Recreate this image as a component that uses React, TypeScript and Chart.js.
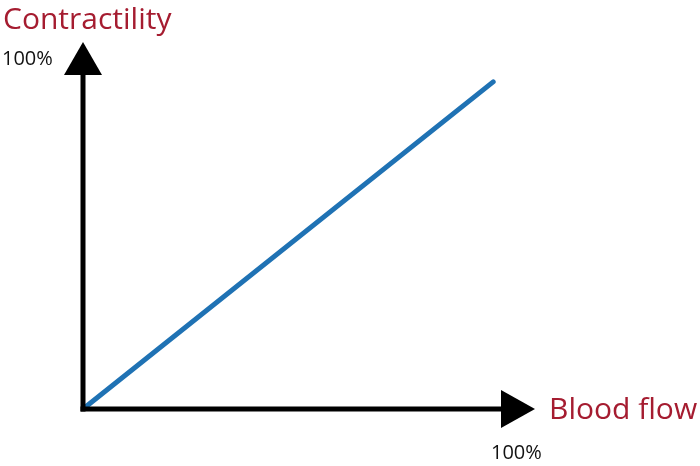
import React, { useEffect, useRef } from "react";
import { Chart, registerables } from "chart.js";

Chart.register(...registerables);

const bloodFlow: number[] = [0, 100];
const contractility: number[] = [0, 100];
const xAxisTitle = "Blood flow";
const yAxisTitle = "Contractility";
const xMaxLabel = "100%";
const yMaxLabel = "100%";

const axesPlugin = {
  id: "arrowAxes",
  afterDraw(chart: any) {
    const ctx = chart.ctx as CanvasRenderingContext2D;
    const xs = chart.scales.x;
    const ys = chart.scales.y;
    const ox = xs.getPixelForValue(0);
    const oy = ys.getPixelForValue(0);
    const right = xs.getPixelForValue(xs.max);
    const top = ys.getPixelForValue(ys.max);
    ctx.save();
    ctx.fillStyle = "#000";
    ctx.strokeStyle = "#000";
    ctx.lineWidth = 5;
    ctx.lineCap = "butt";
    // vertical axis
    ctx.beginPath();
    ctx.moveTo(ox, oy + 2.5);
    ctx.lineTo(ox, top + 33);
    ctx.stroke();
    ctx.beginPath();
    ctx.moveTo(ox, top);
    ctx.lineTo(ox - 19, top + 33);
    ctx.lineTo(ox + 19, top + 33);
    ctx.closePath();
    ctx.fill();
    // horizontal axis
    ctx.beginPath();
    ctx.moveTo(ox - 2.5, oy);
    ctx.lineTo(right - 34, oy);
    ctx.stroke();
    ctx.beginPath();
    ctx.moveTo(right, oy);
    ctx.lineTo(right - 34, oy - 19);
    ctx.lineTo(right - 34, oy + 19);
    ctx.closePath();
    ctx.fill();
    // texts
    ctx.textBaseline = "alphabetic";
    ctx.textAlign = "left";
    ctx.fillStyle = "#a51c30";
    ctx.font = '30px "Open Sans"';
    ctx.fillText(yAxisTitle, 3, 29);
    ctx.fillText(xAxisTitle, right + 14, oy + 10);
    ctx.fillStyle = "#111";
    ctx.font = '20px "Open Sans"';
    ctx.fillText(yMaxLabel, 2, 65);
    ctx.fillText(xMaxLabel, right - 44, oy + 50);
    ctx.restore();
  },
};

export default function App() {
  const ref = useRef<HTMLCanvasElement | null>(null);
  useEffect(() => {
    document.body.style.margin = "0";
    const chart = new Chart(ref.current as HTMLCanvasElement, {
      type: "scatter",
      data: {
        datasets: [
          {
            data: bloodFlow.map((x, i) => ({ x, y: contractility[i] })),
            showLine: true,
            borderColor: "#1f72b4",
            borderWidth: 5,
            pointRadius: 0,
            borderCapStyle: "round",
          },
        ],
      },
      options: {
        animation: false,
        responsive: false,
        events: [],
        layout: { padding: { left: 83, right: 165, top: 42, bottom: 57 } },
        plugins: { legend: { display: false }, tooltip: { enabled: false } },
        scales: {
          x: { type: "linear", min: 0, max: 110.2, display: false },
          y: { type: "linear", min: 0, max: 112.2, display: false },
        },
      },
      plugins: [axesPlugin],
    });
    return () => chart.destroy();
  }, []);
  return (
    <div style={{ width: 700, height: 466, background: "#fff" }}>
      <canvas ref={ref} width={700} height={466} />
    </div>
  );
}
